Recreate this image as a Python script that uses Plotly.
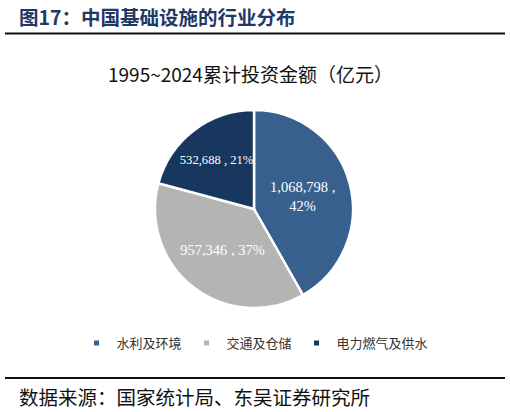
import plotly.graph_objects as go

categories = ["水利及环境", "交通及仓储", "电力燃气及供水"]
values = [1068798, 957346, 532688]
colors = ["#37608F", "#B4B4B4", "#17375E"]
label_breaks = [",<br>", ", ", ", "]

title_text = "图17：中国基础设施的行业分布"
chart_title = "1995~2024累计投资金额（亿元）"
source_text = "数据来源：国家统计局、东吴证券研究所"

W, H = 510, 412

def py(px):
    return 1 - px / H

def pxx(px):
    return px / W

total = sum(values)
labels_text = [f"{v:,} {b}{round(v / total * 100)}%" for v, b in zip(values, label_breaks)]

fig = go.Figure()
fig.add_trace(go.Pie(
    labels=categories,
    values=values,
    text=labels_text,
    sort=False,
    direction="clockwise",
    rotation=0,
    showlegend=False,
    marker=dict(colors=colors, line=dict(color="white", width=2.5)),
    texttemplate="%{text}",
    textposition="inside",
    insidetextorientation="horizontal",
    textfont=dict(family="Liberation Serif", size=14.5, color="white"),
    domain=dict(x=[pxx(155), pxx(353)], y=[py(309), py(109)]),
    hoverinfo="label+value+percent",
))

# legend entries (small square markers like the reference)
for name, c in zip(categories, colors):
    fig.add_trace(go.Scatter(
        x=[None], y=[None], mode="markers", name=name,
        marker=dict(symbol="square", size=5, color=c),
        showlegend=True,
    ))

fig.update_layout(
    width=W, height=H,
    margin=dict(l=0, r=0, t=0, b=0),
    paper_bgcolor="white",
    plot_bgcolor="white",
    xaxis=dict(visible=False),
    yaxis=dict(visible=False),
    showlegend=True,
    legend=dict(
        orientation="h",
        x=0.5, xanchor="center",
        y=py(343), yanchor="middle",
        font=dict(family="Noto Sans CJK SC", size=13, color="#333333"),
        itemsizing="trace",
        itemwidth=30,
        bgcolor="rgba(0,0,0,0)",
    ),
    shapes=[
        dict(type="line", xref="paper", yref="paper",
             x0=pxx(5), x1=pxx(505), y0=py(33.5), y1=py(33.5),
             line=dict(color="#111111", width=2.2)),
        dict(type="line", xref="paper", yref="paper",
             x0=pxx(5), x1=pxx(505), y0=py(378), y1=py(378),
             line=dict(color="#111111", width=2.2)),
    ],
    annotations=[
        dict(text="<b>" + title_text + "</b>", xref="paper", yref="paper",
             x=pxx(17), y=py(17), xanchor="left", yanchor="middle",
             showarrow=False,
             font=dict(family="Noto Sans CJK SC", size=19.5, color="#1F3864")),
        dict(text=chart_title, xref="paper", yref="paper",
             x=pxx(250), y=py(73), xanchor="center", yanchor="middle",
             showarrow=False,
             font=dict(family="Noto Sans CJK SC", size=19, color="#111111")),
        dict(text=source_text, xref="paper", yref="paper",
             x=pxx(17), y=py(396), xanchor="left", yanchor="middle",
             showarrow=False,
             font=dict(family="Noto Sans CJK SC", size=19.5, color="#111111")),
    ],
)

fig.write_html(
    "out.html",
    config={"displayModeBar": False},
    post_script="document.body.style.margin='0';document.body.style.overflow='hidden';",
)
